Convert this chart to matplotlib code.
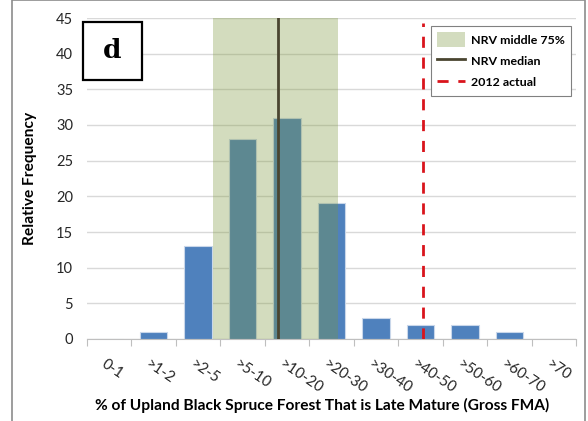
import numpy as np
import matplotlib.pyplot as plt
from matplotlib.patches import Rectangle, Patch
from matplotlib.lines import Line2D

# histogram data
categories = ['0-1', '>1-2', '>2-5', '>5-10', '>10-20', '>20-30',
              '>30-40', '>40-50', '>50-60', '>60-70', '>70']
frequency = [0, 1, 13, 28, 31, 19, 3, 2, 2, 1, 0]

# reference values, in category units (0 = centre of first category)
nrv_low = 2.33
nrv_high = 5.15
nrv_median = 3.80
actual_2012 = 7.06

plt.rcParams['font.family'] = ['Lato', 'DejaVu Sans']

W, H = 588, 421
fig = plt.figure(figsize=(W / 100, H / 100), dpi=100)
ax = fig.add_axes([87 / W, 1 - 339 / H, (576 - 87) / W, (339 - 18) / H])

# outer frame of the figure
fig.patches.append(Rectangle((12 / W, -0.05), (585 - 12) / W, (417 + 25) / H,
                             transform=fig.transFigure, fill=False,
                             edgecolor='#8c8c8c', linewidth=1.2))

x = np.arange(len(categories))
ax.bar(x, frequency, width=0.62, color='#4F81BD', edgecolor='#c9d7ea',
       linewidth=0.8, zorder=2)
ax.axvspan(nrv_low, nrv_high, color='#7C973A', alpha=0.33, linewidth=0, zorder=3)
ax.axvline(nrv_median, color='#4a4530', linewidth=2, zorder=4)
ax.axvline(actual_2012, ymax=0.985, color='#d9141c', linewidth=2,
           dashes=(4, 3.5), zorder=4)

ax.set_xlim(-0.5, len(categories) - 0.5)
ax.set_ylim(0, 45)
ax.set_yticks(range(0, 46, 5))
ax.yaxis.grid(True, color='#d9d9d9', linewidth=1)
ax.set_axisbelow(True)
ax.tick_params(axis='y', length=0, labelsize=10.5, pad=10, colors='#262626')

# ticks at category boundaries, labels at centres
ax.set_xticks(np.arange(-0.5, len(categories), 1))
ax.set_xticklabels([])
ax.tick_params(axis='x', length=5, color='#bfbfbf', direction='out')
for i, lab in enumerate(categories):
    ax.text(i - 0.06, -2.5, lab, rotation=-34, rotation_mode='anchor',
            ha='left', va='top', fontsize=10.8, color='#262626')

for s in ['top', 'right', 'left']:
    ax.spines[s].set_visible(False)
ax.spines['bottom'].set_color('#bfbfbf')

ax.set_ylabel('Relative Frequency', fontsize=11.2, fontweight='bold')
ax.yaxis.set_label_coords(-(87 - 37) / 489, 0.5)
ax.set_xlabel('% of Upland Black Spruce Forest That is Late Mature (Gross FMA)',
              fontsize=11.2, fontweight='bold')
ax.xaxis.set_label_coords(0.48, -(398 - 339) / 321)

# panel letter in a box
fig.patches.append(Rectangle((83 / W, 1 - 80 / H), 59 / W, 58 / H,
                             transform=fig.transFigure, facecolor='white',
                             edgecolor='black', linewidth=1.6, zorder=6))
fig.text(112.5 / W, 1 - 51 / H, 'd', fontsize=19, fontweight='bold',
         family='DejaVu Serif', ha='center', va='center', zorder=7)

handles = [Patch(facecolor='#d3dcbf', edgecolor='none'),
           Line2D([], [], color='#4a4530', linewidth=2),
           Line2D([], [], color='#d9141c', linewidth=2, dashes=(4, 3.5))]
leg = ax.legend(handles, ['NRV middle 75%', 'NRV median', '2012 actual'],
                loc='upper right', bbox_to_anchor=(1.002, 0.994),
                prop={'size': 8.9, 'weight': 'bold'}, fancybox=False,
                framealpha=1, edgecolor='#808080', handlelength=2.2,
                handleheight=1.5, labelspacing=0.5, borderpad=0.5,
                handletextpad=0.5)
leg.get_frame().set_linewidth(0.8)

fig.savefig('out.png', dpi=100)
